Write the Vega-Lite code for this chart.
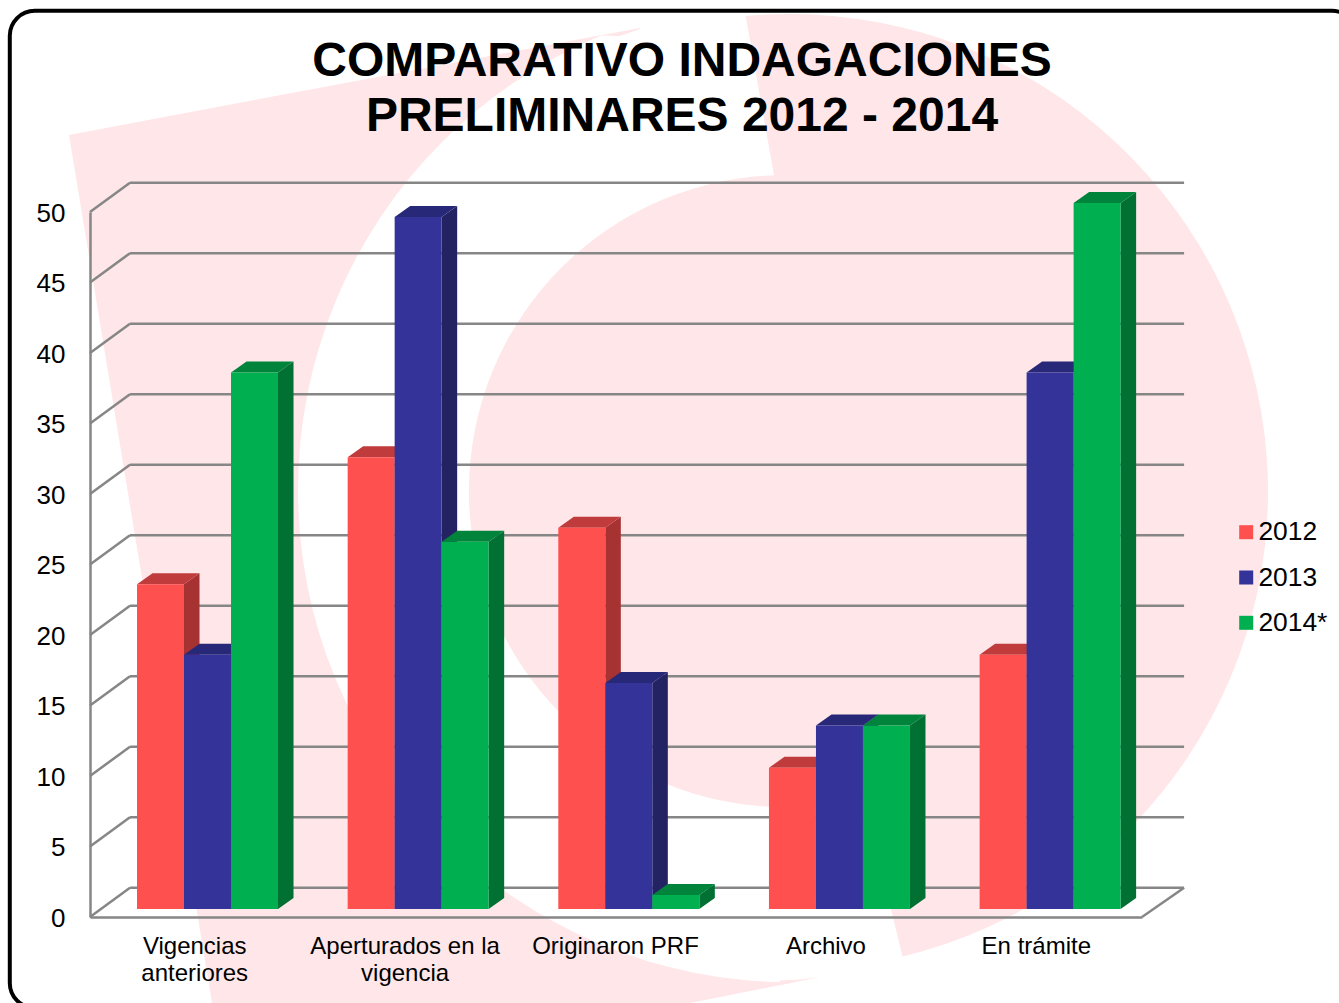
{"$schema":"https://vega.github.io/schema/vega-lite/v6.json","width":1052,"height":705,"autosize":{"type":"none"},"padding":{"left":90,"right":197,"top":212,"bottom":86},"background":"white",
"title":{"text":["COMPARATIVO INDAGACIONES","PRELIMINARES 2012 - 2014"],"font":"Liberation Sans","fontSize":48,"fontWeight":"bold","color":"black","lineHeight":55,"anchor":"middle","dx":66,"offset":-143},
"config":{"view":{"stroke":null},"font":"Liberation Sans"},
"data":{"values":[
{"categoria":"Vigencias anteriores","anio":"2012","valor":23},{"categoria":"Vigencias anteriores","anio":"2013","valor":18},{"categoria":"Vigencias anteriores","anio":"2014*","valor":38},
{"categoria":"Aperturados en la vigencia","anio":"2012","valor":32},{"categoria":"Aperturados en la vigencia","anio":"2013","valor":49},{"categoria":"Aperturados en la vigencia","anio":"2014*","valor":26},
{"categoria":"Originaron PRF","anio":"2012","valor":27},{"categoria":"Originaron PRF","anio":"2013","valor":16},{"categoria":"Originaron PRF","anio":"2014*","valor":1},
{"categoria":"Archivo","anio":"2012","valor":10},{"categoria":"Archivo","anio":"2013","valor":13},{"categoria":"Archivo","anio":"2014*","valor":13},
{"categoria":"En trámite","anio":"2012","valor":18},{"categoria":"En trámite","anio":"2013","valor":38},{"categoria":"En trámite","anio":"2014*","valor":50}]},
"transform":[
{"calculate":"1.0012*indexof(['Vigencias anteriores','Aperturados en la vigencia','Originaron PRF','Archivo','En trámite'],datum.categoria)+0.2234*(indexof(['2012','2013','2014*'],datum.anio)+1)","as":"x0"},
{"calculate":"datum.x0+0.2234","as":"x1"},{"calculate":"datum.valor*1.0015+0.567","as":"yTop"},{"calculate":"0.567","as":"yBase"}],
"layer":[
{"data":{"values":[{"wx":-0.0998,"wy":55.46,"wy2":55.46},{"wx":0.58,"wy":57.38,"wy2":-6.1},{"wx":2.638,"wy":63.12,"wy2":-6.1},{"wx":2.852,"wy":45.82,"wy2":-6.1},{"wx":3.47,"wy":-4.26,"wy2":-4.26}]},
"mark":{"type":"area","fill":"#FFE6E8","orient":"vertical"},
"encoding":{"x":{"field":"wx","type":"quantitative","scale":{"domain":[0,5],"nice":false,"zero":false},"axis":{"values":[0.5,1.5,2.5,3.5,4.5],"title":null,"grid":false,"ticks":false,"domainColor":"#868686","domainWidth":2.5,"labelFontSize":24,"labelColor":"black","labelFont":"Liberation Sans","labelPadding":17,"labelLineHeight":27,"labelLimit":400,"labelOffset":-1,"labelOverlap":false,"labelFlush":false,"labelBound":false,"zindex":1,"labelExpr":"datum.value==0.5?['Vigencias','anteriores']:datum.value==1.5?['Aperturados en la','vigencia']:datum.value==2.5?'Originaron PRF':datum.value==3.5?'Archivo':'En trámite'"}},
"y":{"field":"wy","type":"quantitative","scale":{"domain":[0,50],"nice":false,"zero":false},"axis":{"values":[0,5,10,15,20,25,30,35,40,45,50],"title":null,"grid":false,"ticks":false,"domainColor":"#868686","domainWidth":2.5,"labelFontSize":26,"labelColor":"black","labelFont":"Liberation Sans","labelPadding":25,"labelOffset":1,"labelOverlap":false,"labelBound":false,"zindex":1}},
"y2":{"field":"wy2"}}},
{"data":{"values":[{}]},"mark":{"type":"point","shape":"circle","filled":true,"fill":"white","opacity":1,"size":968256},"encoding":{"x":{"datum":3.327,"type":"quantitative"},"y":{"datum":30.28,"type":"quantitative"}}},
{"data":{"values":[{"pieza":"a","wx":2.424,"wy":62.52,"wy2":62.52},{"pieza":"a","wx":2.519,"wy":62.79,"wy2":62.48},{"pieza":"a","wx":2.614,"wy":63.05,"wy2":62.98},{"pieza":"b","wx":3.279,"wy":-4.5,"wy2":-4.82},{"pieza":"b","wx":3.375,"wy":-4.43,"wy2":-4.54},{"pieza":"b","wx":3.47,"wy":-4.26,"wy2":-4.26}]},"mark":{"type":"area","fill":"#FFE6E8","orient":"vertical"},"encoding":{"x":{"field":"wx","type":"quantitative"},"y":{"field":"wy","type":"quantitative"},"y2":{"field":"wy2"},"detail":{"field":"pieza"}}},
{"data":{"values":[{}]},"mark":{"type":"point","shape":"circle","filled":true,"fill":"#FFE6E8","opacity":1,"size":399424},"encoding":{"x":{"datum":3.303,"type":"quantitative"},"y":{"datum":30.21,"type":"quantitative"}}},
{"data":{"values":[{}]},"mark":{"type":"arc","fill":"#FFE6E8","theta":-0.0935,"theta2":2.904,"radius":478,"radius2":0},"encoding":{"x":{"datum":3.327,"type":"quantitative"},"y":{"datum":30.14,"type":"quantitative"}}},
{"data":{"values":[{"wx":3.113,"wy":64.18,"wy2":64.18},{"wx":3.184,"wy":58.22,"wy2":52.55},{"wx":3.251,"wy":52.6,"wy2":52.6}]},"mark":{"type":"area","fill":"white","orient":"vertical"},"encoding":{"x":{"field":"wx","type":"quantitative"},"y":{"field":"wy","type":"quantitative"},"y2":{"field":"wy2"}}},
{"data":{"values":[{"marca":0},{"marca":5},{"marca":10},{"marca":15},{"marca":20},{"marca":25},{"marca":30},{"marca":35},{"marca":40},{"marca":45},{"marca":50}]},"transform":[{"calculate":"datum.marca+2.08","as":"atras"}],
"layer":[
{"mark":{"type":"rule","stroke":"#868686","strokeWidth":2.5},"encoding":{"x":{"datum":0.19,"type":"quantitative"},"x2":{"datum":5.2},"y":{"field":"atras","type":"quantitative"}}},
{"mark":{"type":"rule","stroke":"#868686","strokeWidth":2.5},"encoding":{"x":{"datum":0,"type":"quantitative"},"x2":{"datum":0.19},"y":{"field":"marca","type":"quantitative"},"y2":{"field":"atras"}}},
{"transform":[{"filter":"datum.marca==0"}],"mark":{"type":"rule","stroke":"#868686","strokeWidth":2.5},"encoding":{"x":{"datum":5,"type":"quantitative"},"x2":{"datum":5.2},"y":{"field":"marca","type":"quantitative"},"y2":{"field":"atras"}}}
]},
{"transform":[{"calculate":"[0,1]","as":"t"},{"flatten":["t"]},{"calculate":"datum.x1+datum.t*0.0737","as":"sx"},{"calculate":"datum.yTop+datum.t*0.78","as":"sy"},{"calculate":"datum.yBase+datum.t*0.78","as":"sy2"}],
"mark":{"type":"area","orient":"vertical"},
"encoding":{"x":{"field":"sx","type":"quantitative"},"y":{"field":"sy","type":"quantitative"},"y2":{"field":"sy2"},"detail":[{"field":"categoria"},{"field":"anio"}],
"fill":{"condition":[{"test":"datum.anio==='2012'","value":"#A63232"},{"test":"datum.anio==='2013'","value":"#232364"}],"value":"#007033"}}},
{"transform":[{"calculate":"[0,1]","as":"t"},{"flatten":["t"]},{"calculate":"datum.x0+datum.t*0.0737","as":"tx"},{"calculate":"datum.x1+datum.t*0.0737","as":"tx2"},{"calculate":"datum.yTop+datum.t*0.78","as":"ty"}],
"mark":{"type":"area","orient":"horizontal"},
"encoding":{"y":{"field":"ty","type":"quantitative"},"x":{"field":"tx","type":"quantitative"},"x2":{"field":"tx2"},"detail":[{"field":"categoria"},{"field":"anio"}],
"fill":{"condition":[{"test":"datum.anio==='2012'","value":"#C03B3B"},{"test":"datum.anio==='2013'","value":"#282878"}],"value":"#00843C"}}},
{"mark":{"type":"rect"},"encoding":{"x":{"field":"x0","type":"quantitative"},"x2":{"field":"x1"},"y":{"field":"yTop","type":"quantitative"},"y2":{"field":"yBase"},
"color":{"field":"anio","type":"nominal","scale":{"domain":["2012","2013","2014*"],"range":["#FF5050","#333399","#00B050"]},
"legend":{"title":null,"orient":"none","legendX":1143,"legendY":307,"symbolType":"square","symbolSize":196,"symbolStrokeWidth":0,"labelFontSize":26.4,"labelFont":"Liberation Sans","labelColor":"black","labelOffset":-1,"rowPadding":18.3}}}},
{"data":{"values":[{}]},"mark":{"type":"rect","filled":false,"stroke":"black","strokeWidth":4,"cornerRadius":25},"encoding":{"x":{"datum":-0.3812,"type":"quantitative"},"x2":{"datum":6.022},"y":{"datum":64.27,"type":"quantitative"},"y2":{"datum":-6.45}}}
]}
